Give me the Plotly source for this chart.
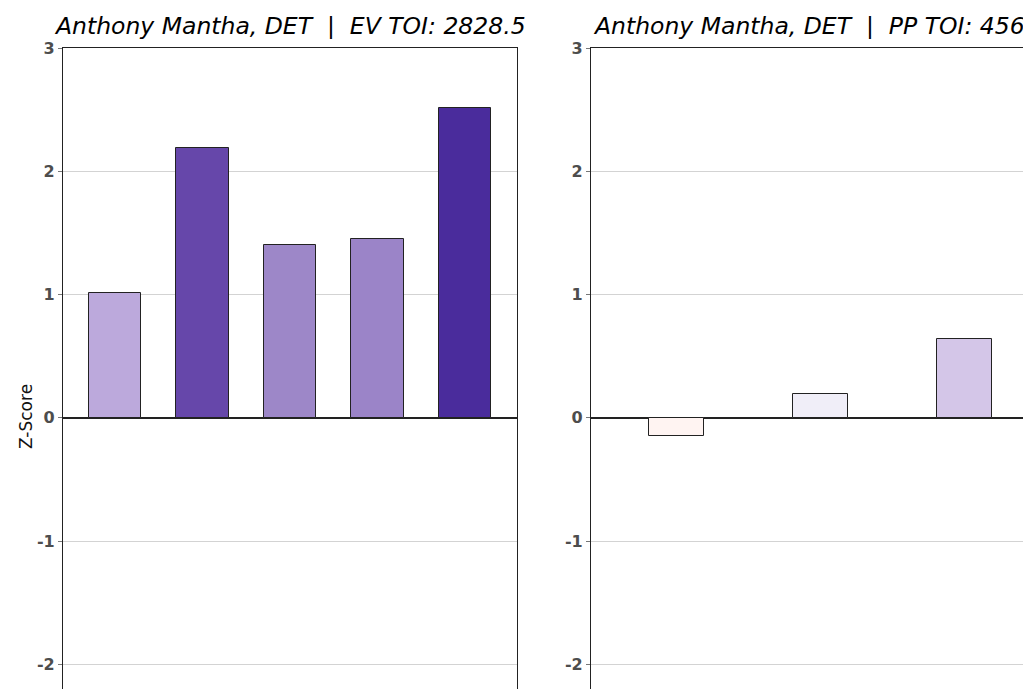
import plotly.graph_objects as go

W, H = 1023, 689

ev_pos = [0, 1, 2, 3, 4]
ev_vals = [1.01, 2.19, 1.40, 1.45, 2.51]
ev_colors = ["#bca9dc", "#6647aa", "#9d87c8", "#9b84c8", "#4a2c9c"]

pp_pos = [0, 1, 2]
pp_vals = [-0.15, 0.19, 0.64]
pp_colors = ["#fff4f2", "#f0eef8", "#d4c6e8"]

yticks = [-2, -1, 0, 1, 2, 3]
NB = "\u00a0"
ev_title = "Anthony Mantha, DET" + NB * 2 + "|" + NB * 2 + "EV TOI: 2828.5"
pp_title = "Anthony Mantha, DET" + NB * 2 + "|" + NB * 2 + "PP TOI: 456"
ylabel = "Z-Score"

fig = go.Figure()
fig.add_trace(go.Bar(x=ev_pos, y=ev_vals, width=0.6, xaxis="x", yaxis="y",
                     marker=dict(color=ev_colors, line=dict(color="#222222", width=1)),
                     showlegend=False, hoverinfo="skip"))
fig.add_trace(go.Bar(x=pp_pos, y=pp_vals, width=0.38, xaxis="x2", yaxis="y2",
                     marker=dict(color=pp_colors, line=dict(color="#222222", width=1)),
                     showlegend=False, hoverinfo="skip"))

ytop = (H - 48) / H
yax = dict(range=[-2.2, 3], tickvals=yticks, ticktext=[str(t) for t in yticks],
           showgrid=True, gridcolor="#d3d3d3", gridwidth=1,
           zeroline=True, zerolinecolor="#222222", zerolinewidth=1.5,
           showline=True, linecolor="#222222", linewidth=1.2,
           ticks="outside", ticklen=4, tickcolor="#777777",
           tickfont=dict(family="DejaVu Sans", size=16, color="#4d4d4d", weight="bold"),
           domain=[0, ytop], automargin=False)
xax = dict(side="top", showline=True, linecolor="#222222", linewidth=1.2,
           showticklabels=False, ticks="", showgrid=False, zeroline=False,
           automargin=False)
fig.update_layout(
    width=W, height=H,
    margin=dict(l=0, r=0, t=0, b=0, pad=0),
    paper_bgcolor="white", plot_bgcolor="white",
    xaxis=dict(**xax, domain=[63 / W, 517 / W], range=[-0.594, 4.594], anchor="y"),
    yaxis=dict(**yax, mirror=True, anchor="x"),
    xaxis2=dict(**xax, domain=[591 / W, 1.0], range=[-0.594, 2.406], anchor="y2"),
    yaxis2=dict(**yax, anchor="x2"),
    bargap=0,
)

title_font = dict(family="DejaVu Sans", size=23.5, color="#000000", style="italic")
fig.add_annotation(text=ev_title, xref="paper", yref="paper",
                   x=290 / W, y=(H - 26) / H, xanchor="center", yanchor="middle",
                   showarrow=False, font=title_font)
fig.add_annotation(text=pp_title, xref="paper", yref="paper",
                   x=591 / W, y=(H - 26) / H, xanchor="left", yanchor="middle",
                   showarrow=False, font=title_font)
fig.add_annotation(text=ylabel, xref="paper", yref="paper",
                   x=26 / W, y=(H - 417) / H, xanchor="center", yanchor="middle",
                   textangle=-90, showarrow=False,
                   font=dict(family="DejaVu Sans", size=17, color="#111111"))

fig.write_html("out.html", config={"displayModeBar": False},
               post_script="document.body.style.margin='0';document.body.style.overflow='hidden';")
